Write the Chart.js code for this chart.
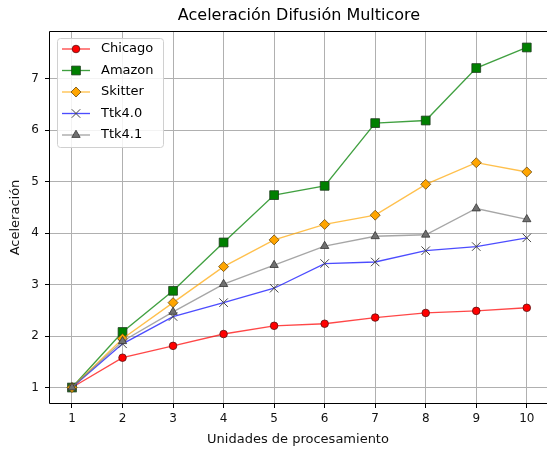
<!DOCTYPE html>
<html>
<head>
<meta charset="utf-8">
<script src="https://cdn.jsdelivr.net/npm/chart.js@4"></script>
<style>
  body { margin: 0; background: #fff; }
  #wrap { width: 547px; height: 449px; }
</style>
</head>
<body>
<div id="wrap"><canvas id="speedup" width="547" height="449"></canvas></div>
<script>
// --- Data ---
const units = [1, 2, 3, 4, 5, 6, 7, 8, 9, 10];
const chicago = [1, 1.58, 1.81, 2.04, 2.2, 2.24, 2.36, 2.45, 2.49, 2.55];
const amazon = [1, 2.08, 2.88, 3.82, 4.74, 4.92, 6.14, 6.19, 7.21, 7.61];
const skitter = [1, 1.95, 2.65, 3.35, 3.87, 4.17, 4.35, 4.95, 5.37, 5.19];
const ttk40 = [1, 1.85, 2.38, 2.65, 2.93, 3.41, 3.44, 3.66, 3.74, 3.91];
const ttk41 = [1, 1.9, 2.47, 3.01, 3.38, 3.75, 3.94, 3.97, 4.48, 4.27];
const xTicks = [1, 2, 3, 4, 5, 6, 7, 8, 9, 10];
const yTicks = [1, 2, 3, 4, 5, 6, 7];

const FONT = "'DejaVu Sans', sans-serif";

function pts(values) {
    return units.map((u, i) => ({ x: u, y: values[i] }));
}

// line colour, marker fill, marker edge, marker style, radius
const seriesDefs = [
    { label: 'Chicago', data: chicago, line: 'rgba(255,0,0,0.72)', fill: '#ff0000', edge: '#5a1010', style: 'circle', r: 3.8 },
    { label: 'Amazon', data: amazon, line: 'rgba(0,128,0,0.75)', fill: '#008000', edge: '#1c3a1c', style: 'rect', r: 6.2 },
    { label: 'Skitter', data: skitter, line: 'rgba(255,165,0,0.7)', fill: '#ffa500', edge: '#6a4a10', style: 'rectRot', r: 5 },
    { label: 'Ttk4.0', data: ttk40, line: 'rgba(0,0,255,0.7)', fill: '#444444', edge: '#444444', style: 'crossRot', r: 6 },
    { label: 'Ttk4.1', data: ttk41, line: 'rgba(128,128,128,0.7)', fill: '#707070', edge: '#333333', style: 'triangle', r: 4.8 }
];

const datasets = seriesDefs.map((s, i) => ({
    label: s.label,
    data: pts(s.data),
    borderColor: s.line,
    borderWidth: 1.35,
    pointStyle: s.style,
    pointRadius: s.r,
    pointBackgroundColor: s.fill,
    pointBorderColor: s.edge,
    pointBorderWidth: s.style === 'crossRot' ? 1 : 0.8,
    order: seriesDefs.length - i,
    tension: 0
}));

// title centred over plot area (plot runs past the right edge)
const titlePlugin = {
    id: 'plotTitle',
    afterDraw(chart) {
        const { ctx } = chart;
        ctx.save();
        ctx.font = '16px ' + FONT;
        ctx.fillStyle = '#000';
        ctx.textAlign = 'center';
        ctx.textBaseline = 'middle';
        ctx.fillText('Aceleración Difusión Multicore', 299, 16);
        ctx.restore();
    }
};

// black spines: left, top, bottom
const framePlugin = {
    id: 'frame',
    afterDatasetsDraw(chart) {
        const { ctx, chartArea: a } = chart;
        ctx.save();
        ctx.strokeStyle = '#000';
        ctx.lineWidth = 1;
        ctx.beginPath();
        ctx.moveTo(a.right + 2, a.top + 0.5);
        ctx.lineTo(a.left + 0.5, a.top + 0.5);
        ctx.lineTo(a.left + 0.5, a.bottom - 0.5);
        ctx.lineTo(a.right + 2, a.bottom - 0.5);
        ctx.stroke();
        ctx.restore();
    }
};

// matplotlib style legend: line + marker + text
const legendPlugin = {
    id: 'mplLegend',
    afterDraw(chart) {
        const { ctx } = chart;
        const bx = 57, by = 38, bw = 106, bh = 109;
        ctx.save();
        ctx.fillStyle = 'rgba(255,255,255,0.85)';
        ctx.strokeStyle = '#d0d0d0';
        ctx.lineWidth = 1;
        ctx.beginPath();
        ctx.roundRect(bx + 0.5, by + 0.5, bw, bh, 3);
        ctx.fill();
        ctx.stroke();
        ctx.font = '13px ' + FONT;
        ctx.textBaseline = 'middle';
        ctx.textAlign = 'left';
        seriesDefs.forEach((s, i) => {
            const y = 49 + i * 21.5;
            ctx.strokeStyle = s.line;
            ctx.lineWidth = 1.35;
            ctx.beginPath();
            ctx.moveTo(62, y);
            ctx.lineTo(90, y);
            ctx.stroke();
            ctx.fillStyle = s.fill;
            ctx.strokeStyle = s.edge;
            ctx.lineWidth = s.style === 'crossRot' ? 1 : 0.8;
            Chart.helpers.drawPoint(ctx, { pointStyle: s.style, radius: s.r, rotation: 0, borderWidth: ctx.lineWidth }, 76, y);
            ctx.fillStyle = '#000';
            ctx.fillText(s.label, 101, y);
        });
        ctx.restore();
    }
};

new Chart(document.getElementById('speedup'), {
    type: 'line',
    data: { datasets },
    plugins: [titlePlugin, framePlugin, legendPlugin],
    options: {
        responsive: false,
        animation: false,
        events: [],
        layout: { autoPadding: false, padding: { top: 31, right: 0, left: 0, bottom: 0 } },
        plugins: {
            legend: { display: false },
            title: { display: false },
            tooltip: { enabled: false }
        },
        scales: {
            x: {
                type: 'linear',
                min: 0.545,
                max: 10.4,
                afterBuildTicks: s => { s.ticks = xTicks.map(v => ({ value: v })); },
                afterFit: s => { s.height = 45; s.paddingLeft = 0; s.paddingRight = 0; },
                grid: { color: '#b0b0b0', lineWidth: 1, tickLength: 4, tickColor: '#000' },
                border: { display: false },
                ticks: { color: '#111', font: { family: FONT, size: 12 }, padding: 4, maxRotation: 0, autoSkip: false },
                title: { display: true, text: 'Unidades de procesamiento', color: '#111', font: { family: FONT, size: 13 }, padding: { top: 0, bottom: 2 } }
            },
            y: {
                type: 'linear',
                min: 0.68,
                max: 7.93,
                afterBuildTicks: s => { s.ticks = yTicks.map(v => ({ value: v })); },
                afterFit: s => { s.width = 49; s.paddingTop = 0; s.paddingBottom = 0; },
                grid: { color: '#b0b0b0', lineWidth: 1, tickLength: 4, tickColor: '#000' },
                border: { display: false },
                ticks: { color: '#111', font: { family: FONT, size: 12 }, padding: 6 },
                title: { display: true, text: 'Aceleración', color: '#111', font: { family: FONT, size: 13 }, padding: { top: 8, bottom: 0 } }
            }
        }
    }
});
</script>
</body>
</html>
